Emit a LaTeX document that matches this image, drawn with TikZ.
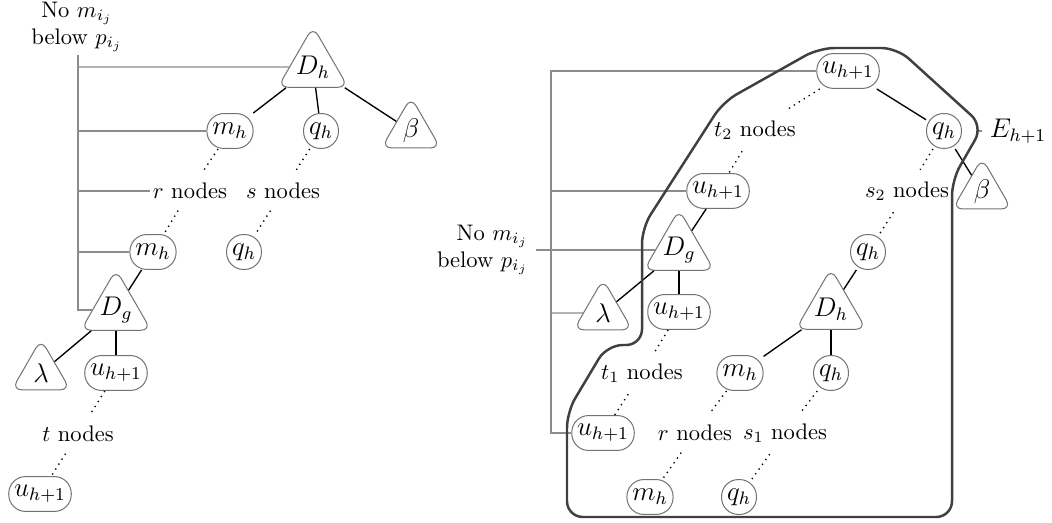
\documentclass[tikz,border=0pt]{standalone}
\usetikzlibrary{shapes.geometric}
\newcommand{\tlow}[1]{\makebox[0pt]{\raisebox{-2pt}{$#1$}}}
\newcommand{\tmid}[1]{\makebox[0pt]{$#1$}}
\begin{document}
\begin{tikzpicture}[x=0.444pt,y=-0.444pt,
  rr/.style={draw=black!55, line width=0.45pt, rounded corners=7.5pt, minimum height=15.5pt, minimum width=15.5pt, inner xsep=2.4pt, inner ysep=1pt, font=\large},
  tribig/.style={draw=black!55, line width=0.45pt, regular polygon, regular polygon sides=3, minimum size=36pt, inner sep=0pt, rounded corners=4.5pt, font=\large},
  trismall/.style={tribig, minimum size=30pt},
  lbl/.style={inner xsep=1pt, inner ysep=5pt},
  edge/.style={black, line width=0.6pt},
  dots/.style={black, dotted, line width=0.6pt},
  guide/.style={black!45, line width=0.5pt},
  outline/.style={black!75, line width=1.1pt, rounded corners=7pt}]
\useasboundingbox (0,0) rectangle (1052,523);

% ---------- left diagram ----------
\node[align=center] (labL) at (77,27) {No $m_{i_j}$\\below $p_{i_j}$};
\node[tribig] (Dh) at (313,67) {\tlow{D_h}};
\node[rr] (mA) at (230,131) {$m_h$};
\node[rr] (qA) at (321,131) {$q_h$};
\node[trismall] (bA) at (411,131) {\tmid{\beta}};
\node[lbl] (rA) at (190,191) {$r$ nodes};
\node[lbl] (sA) at (283,191) {$s$ nodes};
\node[rr] (mB) at (153,252) {$m_h$};
\node[rr] (qB) at (244,252) {$q_h$};
\node[tribig] (Dg) at (116,310) {\tlow{D_g}};
\node[trismall] (lA) at (41,373) {\tmid{\lambda}};
\node[rr] (uA) at (116,373) {$u_{h+1}$};
\node[lbl] (tA) at (78,434) {$t$ nodes};
\node[rr] (uB) at (40,494) {$u_{h+1}$};
\coordinate (aTop) at (78,55);

\draw[guide] (aTop) |- (Dg);
\draw[guide] (aTop |- Dh) -- (Dh);
\draw[guide] (aTop |- mA) -- (mA);
\draw[guide] (aTop |- rA) -- (rA);
\draw[guide] (aTop |- mB) -- (mB);

\draw[edge] (Dh) -- (mA);
\draw[edge] (Dh) -- (qA);
\draw[edge] (Dh) -- (bA);
\draw[edge] (mB) -- (Dg);
\draw[edge] (Dg) -- (lA);
\draw[edge] (Dg) -- (uA);

\draw[dots] (mA) -- (rA);
\draw[dots] (rA) -- (mB);
\draw[dots] (qA) -- (sA);
\draw[dots] (sA) -- (qB);
\draw[dots] (uA) -- (tA);
\draw[dots] (tA) -- (uB);

% ---------- right diagram ----------
\node[rr] (uT) at (848,71) {$u_{h+1}$};
\node[rr] (qR) at (944,131) {$q_h$};
\node[trismall] (bR) at (982,192) {\tmid{\beta}};
\node[lbl] (t2) at (755,130) {$t_2$ nodes};
\node[rr] (u2) at (718,191) {$u_{h+1}$};
\node[lbl] (s2) at (907,191) {$s_2$ nodes};
\node[tribig] (DgR) at (679,250) {\tlow{D_g}};
\node[trismall] (lR) at (603,313) {\tmid{\lambda}};
\node[rr] (u3) at (679,312) {$u_{h+1}$};
\node[rr] (qR2) at (868,252) {$q_h$};
\node[tribig] (DhR) at (831,309) {\tlow{D_h}};
\node[lbl] (t1) at (642,373) {$t_1$ nodes};
\node[rr] (u4) at (603,433) {$u_{h+1}$};
\node[rr] (m3) at (740,373) {$m_h$};
\node[rr] (q3) at (831,373) {$q_h$};
\node[lbl] (r2) at (695,433) {$r$ nodes};
\node[lbl] (s1) at (785,433) {$s_1$ nodes};
\node[rr] (m4) at (650,497) {$m_h$};
\node[rr] (q4) at (739,497) {$q_h$};
\node[align=right, anchor=east] (labR) at (536,250) {No $m_{i_j}$\\below $p_{i_j}$};
\coordinate (Raxis) at (551,433);
\node[font=\large] (E) at (1018,131) {$E_{h+1}$};
\coordinate (Et) at (977,131);

\draw[guide] (uT) -| (Raxis) -- (u4);
\draw[guide] (Raxis |- u2) -- (u2);
\draw[guide] (Raxis |- lR) -- (lR);
\draw[guide] (labR) -- (DgR);
\draw[guide] (Et) -- (E);

\draw[edge] (uT) -- (qR);
\draw[edge] (qR) -- (bR);
\draw[edge] (u2) -- (DgR);
\draw[edge] (DgR) -- (lR);
\draw[edge] (DgR) -- (u3);
\draw[edge] (qR2) -- (DhR);
\draw[edge] (DhR) -- (m3);
\draw[edge] (DhR) -- (q3);

\draw[dots] (uT) -- (t2);
\draw[dots] (t2) -- (u2);
\draw[dots] (qR) -- (s2);
\draw[dots] (s2) -- (qR2);
\draw[dots] (u3) -- (t1);
\draw[dots] (t1) -- (u4);
\draw[dots] (m3) -- (r2);
\draw[dots] (r2) -- (m4);
\draw[dots] (q3) -- (s1);
\draw[dots] (s1) -- (q4);

\draw[outline] (860,48) -- (897,48) -- (983,126) -- (952,180) -- (952,517)
  -- (567,517) -- (567,412) -- (607,345) -- (642,345) -- (642,228)
  -- (723,102) -- (819,48) -- cycle;
\end{tikzpicture}
\end{document}
